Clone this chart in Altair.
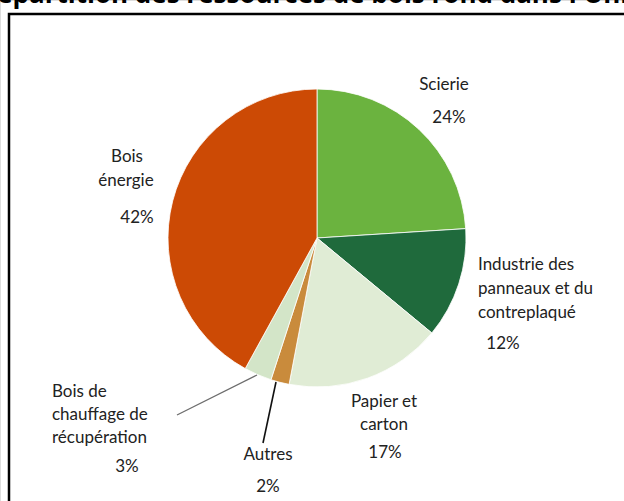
import altair as alt
import pandas as pd

# ---- data ----
categories = ["Scierie", "Industrie des panneaux et du contreplaqué", "Papier et carton",
              "Autres", "Bois de chauffage de récupération", "Bois énergie"]
shares = [24, 12, 17, 2, 3, 42]
colors = ["#6BB33F", "#1F6A3C", "#E0ECD5", "#C98B3C", "#D3E5C8", "#CC4A05"]

label_lines = [
    ["Scierie", "", "24%"],
    ["Industrie des", "panneaux et du", "contreplaqué", "12%"],
    ["Papier et", "carton", "17%"],
    ["Autres", "2%"],
    ["Bois de", "chauffage de", "récupération", "3%"],
    ["Bois", "énergie", "42%"],
]

# ---- layout (pixel positions of annotations) ----
W, H = 624, 501
CX, CY, R = 317, 238, 149
FONT = "Lato"

pie_df = pd.DataFrame({"cat": categories, "share": shares, "idx": list(range(len(categories)))})

pie = alt.Chart(pie_df).mark_arc(stroke="white", strokeWidth=0.8, radius=R).encode(
    theta=alt.Theta("share:Q", stack=True),
    order=alt.Order("idx:Q"),
    color=alt.Color("cat:N", scale=alt.Scale(domain=categories, range=colors), legend=None),
    x=alt.value(CX),
    y=alt.value(CY),
)

label_layout = [
    [(444, 85, "center"), None, (449, 118, "center")],
    [(478, 265, "left"), (478, 289, "left"), (478, 313, "left"), (503, 344, "center")],
    [(384, 402, "center"), (384, 425, "center"), (385, 453, "center")],
    [(268, 455, "center"), (268, 487, "center")],
    [(52, 392, "left"), (52, 415, "left"), (52, 438, "left"), (127, 467, "center")],
    [(127, 157, "center"), (126, 181, "center"), (137, 218, "center")],
]

rows = []
for lines, lay in zip(label_lines, label_layout):
    for t, p in zip(lines, lay):
        if p is None or t == "":
            continue
        rows.append({"t": t, "x": p[0], "y": p[1], "a": p[2]})
lab_df = pd.DataFrame(rows)

xs = alt.Scale(domain=[0, W], range=[0, W])
ys = alt.Scale(domain=[0, H], range=[0, H])

text_layers = []
for a in ["left", "center"]:
    sub = lab_df[lab_df.a == a]
    text_layers.append(
        alt.Chart(sub).mark_text(font=FONT, fontSize=17, color="#222222", align=a, baseline="middle").encode(
            x=alt.X("x:Q", scale=xs, axis=None),
            y=alt.Y("y:Q", scale=ys, axis=None),
            text="t:N",
        )
    )

lead_df = pd.DataFrame({
    "seg": ["chauffage", "chauffage", "autres", "autres"],
    "x": [177, 257, 263, 276],
    "y": [415, 375, 443, 382],
})
leader_grey = alt.Chart(lead_df[lead_df.seg == "chauffage"]).mark_line(color="#6d6d6d", strokeWidth=1.3).encode(
    x=alt.X("x:Q", scale=xs, axis=None),
    y=alt.Y("y:Q", scale=ys, axis=None),
)
leader_black = alt.Chart(lead_df[lead_df.seg == "autres"]).mark_line(color="#111111", strokeWidth=1.6).encode(
    x=alt.X("x:Q", scale=xs, axis=None),
    y=alt.Y("y:Q", scale=ys, axis=None),
)

frame = alt.Chart(pd.DataFrame({"k": [0]})).mark_rect(fill=None, stroke="black", strokeWidth=2.5).encode(
    x=alt.value(9), x2=alt.value(W + 20), y=alt.value(14), y2=alt.value(H + 20)
)

title_cut = alt.Chart(pd.DataFrame({"t": ["Répartition des ressources de bois rond dans l'Union européenne, en pourcentage"]})).mark_text(
    font="Open Sans", fontSize=26, fontWeight="bold", color="black", align="left", baseline="alphabetic"
).encode(x=alt.value(-20), y=alt.value(3), text="t:N")

chart = alt.layer(pie, frame, leader_grey, leader_black, *text_layers, title_cut).properties(
    width=W, height=H, padding=0, autosize=alt.AutoSizeParams(type="none")
).configure_view(stroke=None).configure(background="white")

chart.save("out.html", embed_options={"renderer": "svg", "actions": False})
